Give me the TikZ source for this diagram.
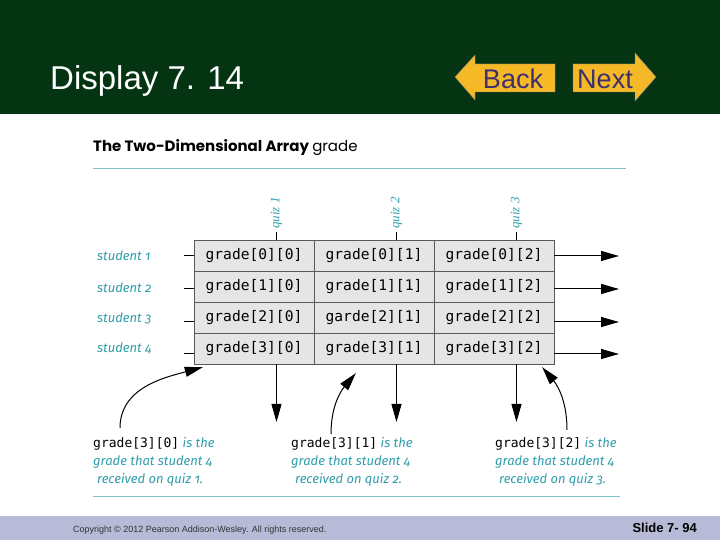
\documentclass[tikz,border=0pt]{standalone}
\usepackage{fontspec}
\setmainfont{Liberation Sans}
\newfontfamily\codefont{DejaVu Sans Mono}
\newfontfamily\notefont[Numbers=OldStyle]{Fira Sans}
\newfontfamily\headfont{Poppins}
\newfontfamily\quizfont{Liberation Serif}
\usepackage{tikz}
\usetikzlibrary{arrows.meta,positioning}
\definecolor{slidegreen}{RGB}{4,52,17}
\definecolor{btn}{RGB}{245,185,40}
\definecolor{btntext}{RGB}{60,48,110}
\definecolor{noteteal}{RGB}{48,158,172}
\definecolor{rulecol}{RGB}{125,198,202}
\definecolor{cellgray}{RGB}{229,229,229}
\definecolor{footer}{RGB}{184,187,216}

\begin{document}
\begin{tikzpicture}[x=1pt,y=1pt,
  cell/.style={draw=black!65,fill=cellgray,minimum width=120pt,minimum height=31pt,inner sep=0pt,font=\codefont\fontsize{14.6}{17}\selectfont},
  bigarrow/.style={line width=1pt,-{Triangle[length=18pt,width=10pt]}},
  note/.style={anchor=west,align=left,inner sep=0pt,text=noteteal,font=\notefont\itshape\fontsize{13}{18}\selectfont}]
  \useasboundingbox (0,0) rectangle (720,540);
  \fill[white] (0,0) rectangle (720,540);
  \fill[slidegreen] (0,426) rectangle (720,540);
  \fill[footer] (0,0) rectangle (720,24);
  \node[anchor=base west,inner sep=0pt,text=white,font=\fontsize{33}{33}\selectfont] (title) at (50,450) {Display 7. 14};
  \filldraw[fill=btn,draw=black!50,thin] (455,463)--(475,485)--(475,476)--(555,476)--(555,448)--(475,448)--(475,440)--cycle;
  \filldraw[fill=btn,draw=black!50,thin] (656,463)--(635,487)--(635,476)--(573,476)--(573,448)--(635,448)--(635,439)--cycle;
  \node[text=btntext,font=\fontsize{27}{27}\selectfont] (back) at (513,461) {Back};
  \node[text=btntext,font=\fontsize{27}{27}\selectfont] (next) at (605,461) {Next};

  \node[anchor=base west,inner sep=0pt,font=\headfont\fontsize{15}{15}\selectfont] (head) at (93,388) {\bfseries The Two-Dimensional Array \mdseries grade};
  \draw[rulecol,line width=1pt] (93,371) -- (626,371);
  \draw[rulecol,line width=1pt] (93,43) -- (620,43);

  \foreach \r/\m in {0/grade,1/grade,2/garde,3/grade} {
    \node[cell] (c\r0) at (254,{284.5-31*\r}) {grade[\r][0]};
    \node[cell] (c\r1) at (374,{284.5-31*\r}) {\m[\r][1]};
    \node[cell] (c\r2) at (494,{284.5-31*\r}) {grade[\r][2]};}
  \foreach \r/\y in {1/284,2/252,3/222,4/192} \node[anchor=west,inner sep=0pt,text=noteteal,font=\notefont\itshape\fontsize{13}{13}\selectfont] (s\r) at (97,\y) {student \r};
  \foreach \r/\y in {0/284,1/251,2/218,3/186} {\coordinate (l\r) at (184,\y); \coordinate (r\r) at (619,\y); \draw[line width=1pt] (l\r) -- (c\r0.west |- l\r); \draw[bigarrow] (c\r2.east |- r\r) -- (r\r);}
  \foreach \k/\x in {1/276.5,2/396.5,3/516.5} {
    \node[rotate=90,anchor=west,inner sep=0pt,text=noteteal,font=\quizfont\itshape\fontsize{13}{13}\selectfont] (q\k) at (\x,311) {quiz \k};
    \coordinate (d\k) at (\x,118);
    \draw[line width=1pt,shorten <=3pt] (q\k.west) -- (q\k.west |- c00.north);
    \draw[bigarrow] (q\k.west |- c30.south) -- (d\k);}

  \node[note] (n1) at (93,78) {{\codefont\upshape\color{black}grade[3][0]} is the\\grade that student 4\\\hspace{4pt}received on quiz 1.};
  \node[note] (n2) at (291,78) {{\codefont\upshape\color{black}grade[3][1]} is the\\grade that student 4\\\hspace{4pt}received on quiz 2.};
  \node[note] (n3) at (495,78) {{\codefont\upshape\color{black}grade[3][2]} is the\\grade that student 4\\\hspace{4pt}received on quiz 3.};
  \coordinate (p1) at (120,112); \coordinate (p2) at (331,106); \coordinate (p3) at (567,110);
  \draw[bigarrow] (p1) to[out=90,in=195] ([shift={(9,-3)}]c30.south west);
  \draw[bigarrow] (p2) to[out=90,in=230] ([shift={(42,-9)}]c31.south west);
  \draw[bigarrow] (p3) to[out=90,in=-50] ([shift={(-12,-3)}]c32.south east);

  \node[anchor=west,inner sep=0pt,text=black!80,font=\fontsize{9}{9}\selectfont] (copy) at (73,10) {Copyright \textcopyright{} 2012 Pearson Addison-Wesley. All rights reserved.};
  \node[anchor=east,inner sep=0pt,font=\bfseries\fontsize{13}{13}\selectfont] (slide) at (697,12) {Slide 7- 94};
\end{tikzpicture}
\end{document}
